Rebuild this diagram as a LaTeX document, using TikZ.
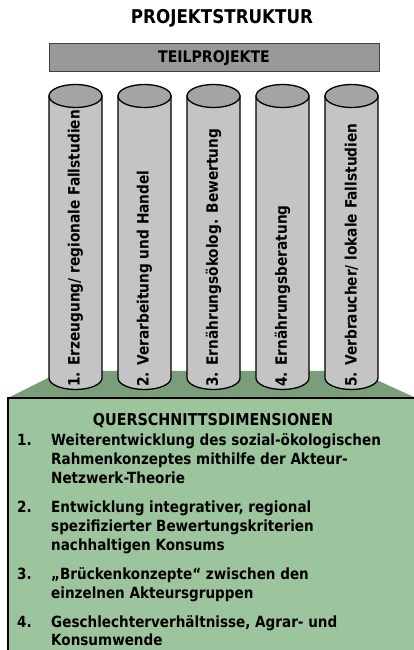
\documentclass[tikz,border=0pt]{standalone}
\usepackage{fontspec}
\setmainfont{DejaVu Sans}[FakeStretch=0.88]
\usetikzlibrary{positioning}

\definecolor{bargray}{HTML}{999999}
\definecolor{bodygray}{HTML}{C4C4C4}
\definecolor{topgray}{HTML}{A4A4A4}
\definecolor{darkgreen}{HTML}{7A9E7A}
\definecolor{lightgreen}{HTML}{9DC59D}

\tikzset{
  pillarbody/.style={fill=bodygray, draw=black, line width=1.3pt},
  pillarend/.style={fill=topgray, draw=black, line width=1.3pt},
  pillartext/.style={rotate=90, anchor=west, inner sep=0pt,
    font=\fontsize{15.6}{18}\selectfont\bfseries},
  itemtext/.style={anchor=base west, inner sep=0pt,
    font=\fontsize{15.4}{18.7}\selectfont\bfseries}
}

\begin{document}
\begin{tikzpicture}[x=1pt, y=1pt]
    \useasboundingbox (0,0) rectangle (414,650);

    % title and bar
    \node[font=\fontsize{19}{22}\selectfont\bfseries] (title) at (222,632) {PROJEKTSTRUKTUR};
    \node[draw=black!75, line width=1pt, fill=bargray, minimum width=330pt, minimum height=28pt,
          font=\fontsize{16}{19}\selectfont\bfseries] (bar) at (214,592) {TEILPROJEKTE};

    % platform
    \fill[darkgreen] (8,252) -- (62,279) -- (357,279) -- (416,252) -- cycle;
    \fill[lightgreen] (8,0) rectangle (416,252);
    \draw[line width=1.2pt] (416,252) -- (8,252) -- (8,-2);

    % pillars
    \foreach \cx in {75.5,144.5,213.5,282.5,351.5} {
      \filldraw[pillarbody] (\cx-26.5,554) -- (\cx-26.5,272)
        arc[start angle=180, end angle=360, x radius=26.5, y radius=11.5]
        -- (\cx+26.5,554) -- cycle;
      \filldraw[pillarend] (\cx,554) ellipse [x radius=26.5, y radius=11.5];
    }

    \node[pillartext] (p1) at (75.5,263) {1. Erzeugung/ regionale Fallstudien};
    \node[pillartext] (p2) at (144.5,263) {2. Verarbeitung und Handel};
    \node[pillartext] (p3) at (213.5,263) {3. Ernährungsökolog. Bewertung};
    \node[pillartext] (p4) at (282.5,263) {4. Ernährungsberatung};
    \node[pillartext] (p5) at (351.5,263) {5. Verbraucher/ lokale Fallstudien};

    % cross-cutting dimensions
    \node[font=\fontsize{16.3}{19}\selectfont\bfseries] (quer) at (213,229) {QUERSCHNITTSDIMENSIONEN};

    \node[itemtext] (d1) at (17,204) {\begin{tabular}[t]{@{}p{34pt}@{}l@{}}
      1. & Weiterentwicklung des sozial-ökologischen\\
         & Rahmenkonzeptes mithilfe der Akteur-\\
         & Netzwerk-Theorie\end{tabular}};
    \node[itemtext] (d2) at (17,137) {\begin{tabular}[t]{@{}p{34pt}@{}l@{}}
      2. & Entwicklung integrativer, regional\\
         & spezifizierter Bewertungskriterien\\
         & nachhaltigen Konsums\end{tabular}};
    \node[itemtext] (d3) at (17,70) {\begin{tabular}[t]{@{}p{34pt}@{}l@{}}
      3. & „Brückenkonzepte“ zwischen den\\
         & einzelnen Akteursgruppen\end{tabular}};
    \node[itemtext] (d4) at (17,23) {\begin{tabular}[t]{@{}p{34pt}@{}l@{}}
      4. & Geschlechterverhältnisse, Agrar- und\\
         & Konsumwende\end{tabular}};
  \end{tikzpicture}
\end{document}
